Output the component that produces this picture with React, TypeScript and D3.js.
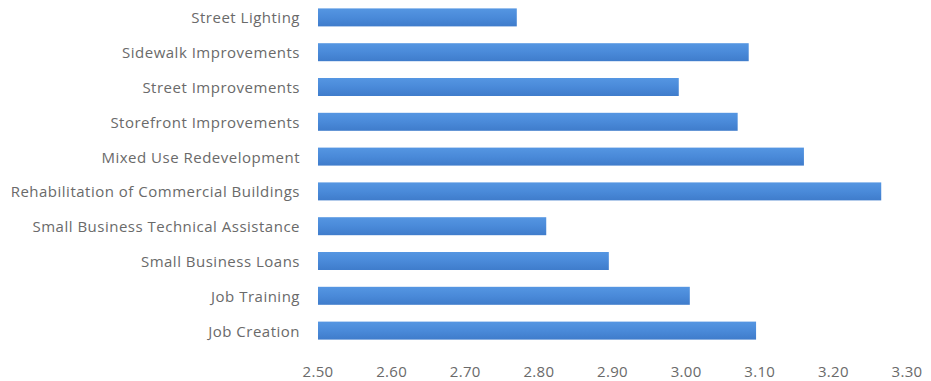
import React from "react";
import * as d3 from "d3";

const categories = [
  "Street Lighting",
  "Sidewalk Improvements",
  "Street Improvements",
  "Storefront Improvements",
  "Mixed Use Redevelopment",
  "Rehabilitation of Commercial Buildings",
  "Small Business Technical Assistance",
  "Small Business Loans",
  "Job Training",
  "Job Creation",
];
const values = [2.77, 3.085, 2.99, 3.07, 3.16, 3.265, 2.81, 2.895, 3.005, 3.095];
const ticks = [2.5, 2.6, 2.7, 2.8, 2.9, 3.0, 3.1, 3.2, 3.3];

const W = 931;
const H = 381;

export default function App() {
  const x = d3.scaleLinear().domain([2.5, 3.3]).range([318, 907]);
  const y = d3
    .scaleBand<string>()
    .domain(categories)
    .range([0, 348])
    .paddingInner(0.483)
    .paddingOuter(0.2415);
  const font = "'Open Sans', 'Liberation Sans', sans-serif";
  return (
    <svg
      width={W}
      height={H}
      style={{ position: "absolute", left: 0, top: 0, background: "#fff" }}
    >
      <defs>
        <linearGradient id="barg" x1="0" y1="0" x2="0" y2="1">
          <stop offset="0" stopColor="#5596e2" />
          <stop offset="0.5" stopColor="#4a8ad9" />
          <stop offset="1" stopColor="#3f7ccb" />
        </linearGradient>
      </defs>
      {categories.map((c, i) => (
        <g key={c}>
          <rect
            x={x(2.5)}
            y={y(c)!}
            width={x(values[i]) - x(2.5)}
            height={y.bandwidth()}
            fill="url(#barg)"
          />
          <text
            x={300}
            y={y(c)! + y.bandwidth() / 2}
            textAnchor="end"
            dominantBaseline="central"
            fontFamily={font}
            fontSize={15}
            letterSpacing={0.5}
            fill="#6a6a6a"
          >
            {c}
          </text>
        </g>
      ))}
      {ticks.map((t) => (
        <text
          key={t}
          x={x(t)}
          y={377}
          textAnchor="middle"
          fontFamily={font}
          fontSize={15}
          letterSpacing={0.3}
          fill="#6a6a6a"
        >
          {d3.format(".2f")(t)}
        </text>
      ))}
    </svg>
  );
}
